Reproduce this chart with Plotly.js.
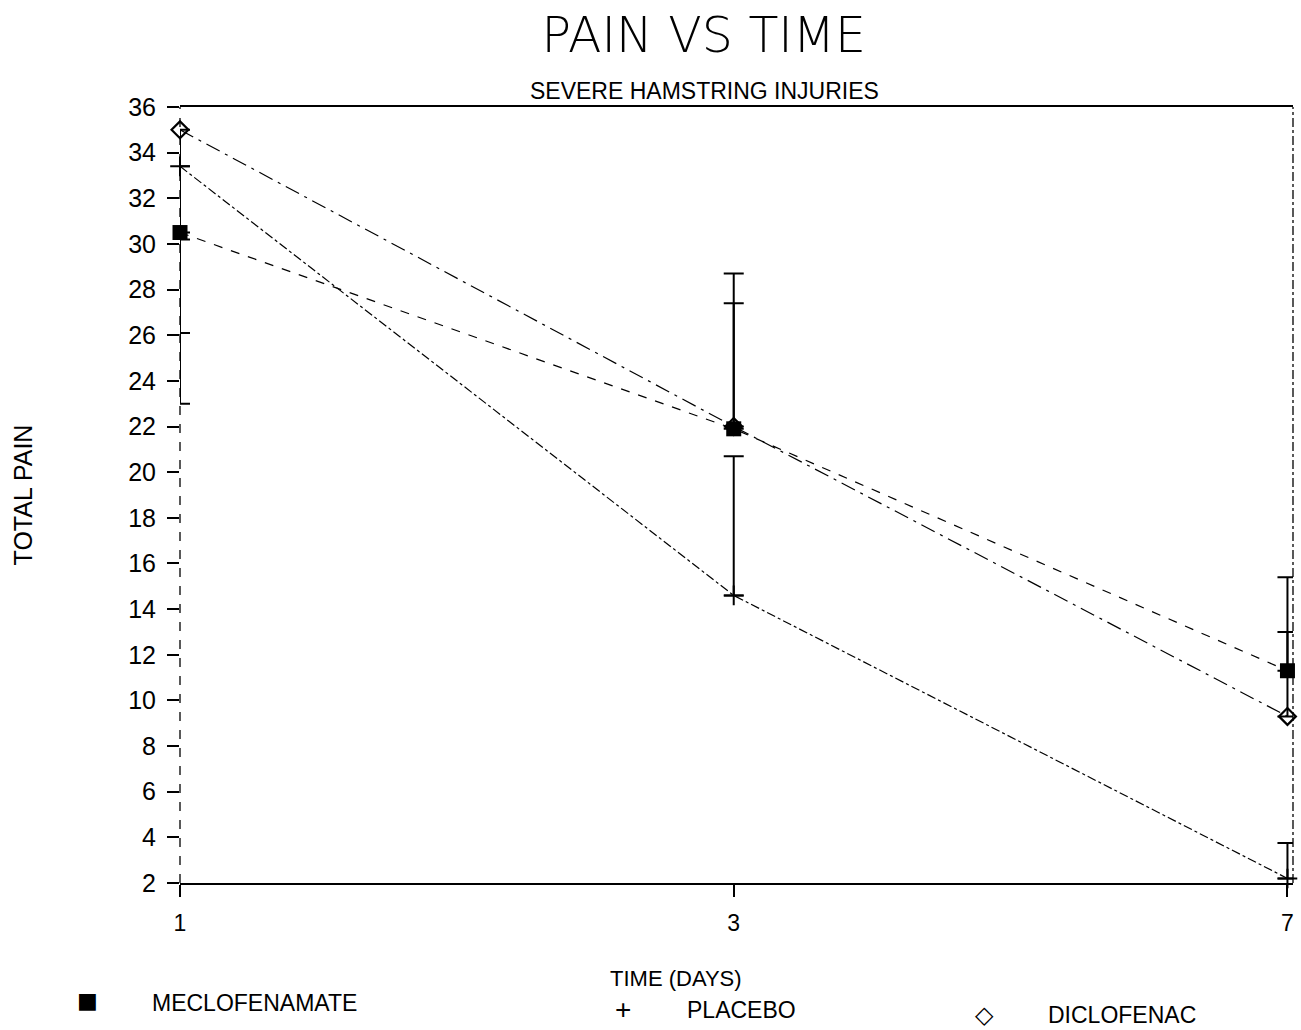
<!DOCTYPE html>
<html>
<head>
<meta charset="utf-8">
<script src="https://cdn.plot.ly/plotly-3.0.1.min.js"></script>
<style>html,body{margin:0;padding:0;background:#fff;}#chart{width:1301px;height:1030px;}</style>
</head>
<body>
<div id="chart"></div>
<script>
// ---- data ----
const days = ['1', '3', '7'];
const seriesNames = ['MECLOFENAMATE', 'PLACEBO', 'DICLOFENAC'];
const meclofenamate = [30.5, 21.9, 11.3];
const meclofenamateErrUp = [0, 6.8, 4.1];
const meclofenamateErrDown = [4.4, 0, 0];
const placebo = [33.4, 14.6, 2.2];
const placeboErrUp = [0, 6.1, 1.55];
const placeboErrDown = [10.4, 0, 0];
const diclofenac = [35.0, 22.0, 9.3];
const diclofenacErrUp = [0, 5.4, 3.7];
const diclofenacErrDown = [4.8, 0, 0];
const yTicks = [2,4,6,8,10,12,14,16,18,20,22,24,26,28,30,32,34,36];

const SANS = '"Liberation Sans", Arial, sans-serif';
const WIDE = '"DejaVu Sans", sans-serif';

function errs(up, down) {
  return {type: 'data', symmetric: false, array: up, arrayminus: down,
          color: '#000', thickness: 2, width: 10};
}

const traces = [
  {x: days, y: meclofenamate, name: seriesNames[0], type: 'scatter', mode: 'lines+markers',
   cliponaxis: false,
   line: {color: '#000', width: 1.2, dash: 'dash'},
   marker: {symbol: 'square', size: 15, color: '#000'},
   error_y: errs(meclofenamateErrUp, meclofenamateErrDown)},
  {x: days, y: placebo, name: seriesNames[1], type: 'scatter', mode: 'lines+markers',
   cliponaxis: false,
   line: {color: '#000', width: 1.2, dash: 'dashdot'},
   marker: {symbol: 'cross-thin', size: 14, color: '#000', line: {color: '#000', width: 2}},
   error_y: errs(placeboErrUp, placeboErrDown)},
  {x: days, y: diclofenac, name: seriesNames[2], type: 'scatter', mode: 'lines+markers',
   cliponaxis: false,
   line: {color: '#000', width: 1.2, dash: 'longdashdot'},
   marker: {symbol: 'diamond-open', size: 13, color: '#000', line: {color: '#000', width: 2.2}},
   error_y: errs(diclofenacErrUp, diclofenacErrDown)}
];

const layout = {
  width: 1301, height: 1030,
  paper_bgcolor: '#fff', plot_bgcolor: '#fff',
  margin: {l: 180, r: 8, t: 107, b: 147},
  showlegend: false,
  title: {text: 'PAIN VS TIME', x: 0.541, xanchor: 'center', y: 0.966, yanchor: 'middle',
          font: {family: WIDE, size: 49, color: '#000', weight: 300}},
  xaxis: {type: 'category', range: [0, 2.01], showgrid: false, zeroline: false,
          showline: true, mirror: true, linecolor: '#000', linewidth: 2,
          ticks: 'outside', ticklen: 12, tickwidth: 2, tickcolor: '#000',
          ticklabelstandoff: 6,
          tickfont: {family: SANS, size: 23, color: '#000'}},
  yaxis: {range: [2, 36], tickvals: yTicks, showgrid: false, zeroline: false,
          showline: false, ticks: 'outside', ticklen: 12, tickwidth: 2, tickcolor: '#000',
          ticklabelstandoff: 6,
          tickfont: {family: SANS, size: 25, color: '#000'},
          title: {text: 'TOTAL PAIN', standoff: 88, font: {family: SANS, size: 25, color: '#000'}}},
  shapes: [
    {type: 'line', xref: 'paper', yref: 'paper', x0: 0, x1: 0, y0: 0, y1: 1,
     line: {color: '#000', width: 1.3, dash: 'dash'}},
    {type: 'line', xref: 'paper', yref: 'paper', x0: 1, x1: 1, y0: 0, y1: 1,
     line: {color: '#000', width: 1.3, dash: 'dashdot'}}
  ],
  annotations: [
    {text: 'SEVERE HAMSTRING INJURIES', xref: 'paper', yref: 'paper', x: 0.471, y: 1.0, yshift: 1,
     xanchor: 'center', yanchor: 'bottom', showarrow: false,
     font: {family: SANS, size: 23, color: '#000'}},
    {text: 'TIME (DAYS)', xref: 'paper', yref: 'paper', x: 0.446, y: 0, yshift: -95,
     xanchor: 'center', yanchor: 'middle', showarrow: false,
     font: {family: SANS, size: 22, color: '#000'}},
    {text: '■', xref: 'paper', yref: 'paper', x: -0.0827, y: 0, yshift: -117, xanchor: 'center', yanchor: 'middle',
     showarrow: false, font: {family: WIDE, size: 22, color: '#000'}},
    {text: seriesNames[0], xref: 'paper', yref: 'paper', x: -0.0270, y: 0, yshift: -120, xanchor: 'left', yanchor: 'middle',
     showarrow: false, font: {family: SANS, size: 23, color: '#000'}},
    {text: '+', xref: 'paper', yref: 'paper', x: 0.398, y: 0, yshift: -126, xanchor: 'center', yanchor: 'middle',
     showarrow: false, font: {family: SANS, size: 28, color: '#000'}},
    {text: seriesNames[1], xref: 'paper', yref: 'paper', x: 0.454, y: 0, yshift: -127, xanchor: 'left', yanchor: 'middle',
     showarrow: false, font: {family: SANS, size: 23, color: '#000'}},
    {text: '◇', xref: 'paper', yref: 'paper', x: 0.723, y: 0, yshift: -132, xanchor: 'center', yanchor: 'middle',
     showarrow: false, font: {family: WIDE, size: 24, color: '#000'}},
    {text: seriesNames[2], xref: 'paper', yref: 'paper', x: 0.778, y: 0, yshift: -132, xanchor: 'left', yanchor: 'middle',
     showarrow: false, font: {family: SANS, size: 23, color: '#000'}}
  ]
};

Plotly.newPlot('chart', traces, layout, {displayModeBar: false, staticPlot: true});
</script>
</body>
</html>
